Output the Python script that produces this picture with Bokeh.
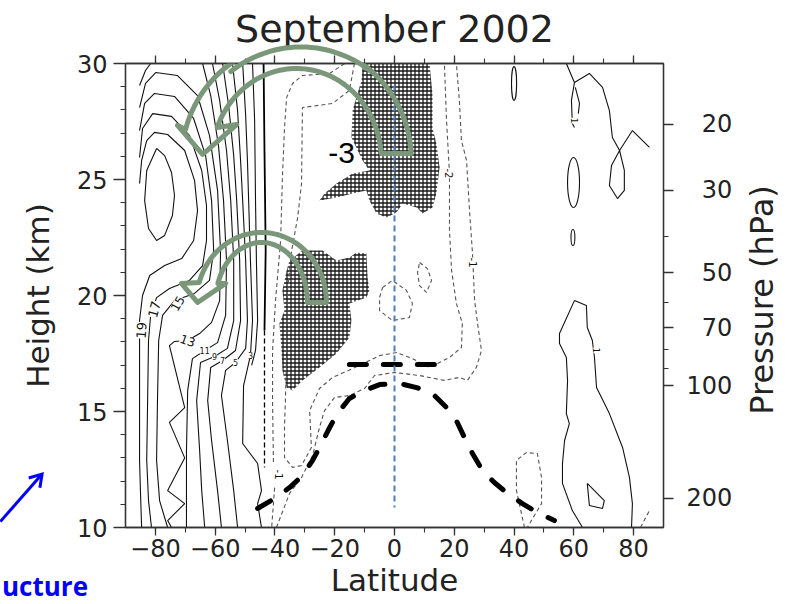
import numpy as np
from bokeh.plotting import figure
from bokeh.layouts import column
from bokeh.models import FixedTicker, LinearAxis, Label, PolyAnnotation, Div
from bokeh.embed import file_html
from bokeh.resources import INLINE

# ---------------- axes data ----------------
X_MIN, X_MAX = -90, 90
Y_MIN, Y_MAX = 10, 30
LAT_TICKS = [-80, -60, -40, -20, 0, 20, 40, 60, 80]
LAT_LABELS = ["\u221280", "\u221260", "\u221240", "\u221220", "0", "20", "40", "60", "80"]
LAT_MINOR = [-80, -70, -60, -50, -40, -30, -20, -10, 0, 10, 20, 30, 40, 50, 60, 70, 80]
H_TICKS = [10, 15, 20, 25, 30]
H_MINOR = list(range(10, 31))
P_TICKS = [20, 30, 50, 70, 100, 200]
P_LABELS = ["\u00a0\u00a020", "\u00a0\u00a030", "\u00a0\u00a050", "\u00a0\u00a070", "100", "200"]
P_MINOR = [40, 60, 80, 90]
SCALE_HEIGHT = 7.0
P_SURFACE = 1000.0


def p2h(p):
    return round(SCALE_HEIGHT * float(np.log(P_SURFACE / p)), 3)

# ---------------- positive (solid) contours: latitude / height (km) ----------------
C21_LAT = [-79.6, -76.9, -74.6, -73.6, -74.3, -76.9, -79.6, -82.3, -83.6, -82.9, -79.6]
C21_H = [26.34, 26.03, 25.30, 24.31, 23.45, 22.59, 22.37, 22.89, 24.09, 25.39, 26.34]
C19_LAT = [-85.3, -84.6, -82.9, -80.3, -75.9, -70.2, -66.9, -65.9, -67.2, -71.2, -76.9, -81.9, -84.3, -85.3, -85.3, -85.3, -85.3, -84.9, -84.6]
C19_H = [24.83, 25.82, 26.68, 27.03, 26.94, 26.25, 24.96, 23.66, 22.37, 21.59, 21.29, 20.86, 20.0, 18.92, 17.84, 15.47, 12.89, 11.16, 10.0]
C17_LAT = [-85.3, -84.3, -80.9, -74.6, -68.6, -64.5, -62.9, -62.9, -64.2, -68.6, -75.3, -79.6, -81.6, -82.3, -82.6, -82.9, -82.3, -81.3]
C17_H = [25.95, 27.20, 27.84, 27.72, 26.90, 25.39, 23.88, 22.37, 21.29, 20.65, 20.30, 19.91, 19.14, 18.06, 15.47, 12.89, 11.16, 10.0]
C15_LAT = [-85.3, -83.6, -80.3, -73.6, -67.2, -63.2, -61.2, -60.5, -61.9, -66.9, -73.6, -77.6, -78.9, -79.3, -79.6, -78.6, -75.9]
C15_H = [27.11, 28.28, 28.71, 28.58, 27.63, 26.03, 24.09, 21.94, 20.65, 20.09, 19.78, 19.14, 18.06, 15.47, 12.89, 11.16, 10.0]
C13_LAT = [-85.3, -83.3, -79.9, -72.6, -65.9, -61.9, -59.2, -58.2, -58.5, -61.2, -65.2, -69.2, -73.6, -75.3, -70.2, -75.3, -70.2, -75.9, -70.2, -75.9, -74.6]
C13_H = [28.10, 29.14, 29.61, 29.48, 28.62, 26.90, 24.53, 21.94, 19.78, 18.84, 18.36, 18.06, 18.02, 17.84, 15.17, 14.53, 13.00, 11.59, 11.03, 10.30, 10.0]
C11A_LAT = [-85.3, -83.3, -81.6]
C11A_H = [29.05, 29.70, 30.0]
C11_LAT = [-64.2, -61.5, -58.9, -57.2, -56.2, -56.5, -59.2, -63.5, -67.6, -69.2, -69.6, -69.6, -69.6]
C11_H = [30.0, 28.62, 26.47, 24.09, 21.51, 19.14, 17.97, 17.63, 17.28, 15.91, 13.32, 11.16, 10.0]
C9_LAT = [-60.9, -58.5, -56.2, -54.8, -53.8, -53.8, -55.9, -60.2, -64.9, -66.2, -65.2, -64.5, -63.5]
C9_H = [30.0, 28.41, 26.25, 24.09, 21.51, 18.92, 17.72, 17.37, 17.11, 15.47, 13.32, 11.59, 10.0]
C7_LAT = [-57.5, -55.5, -53.8, -52.8, -51.8, -51.5, -53.2, -57.5, -61.5, -62.5, -61.2, -59.2, -57.9]
C7_H = [30.0, 28.19, 26.03, 24.09, 21.51, 18.92, 17.63, 17.20, 16.90, 15.47, 13.75, 11.59, 10.0]
C5_LAT = [-54.2, -52.5, -51.5, -50.8, -49.8, -49.2, -49.8, -53.2, -56.5, -57.9, -55.9, -53.8, -52.5]
C5_H = [30.0, 27.97, 25.82, 24.09, 21.51, 18.92, 17.72, 17.11, 16.77, 15.69, 13.75, 11.59, 10.0]
C3_LAT = [-50.8, -49.8, -49.2, -48.8, -48.2, -47.5, -48.2, -50.5, -50.8, -45.8, -44.5, -45.8, -44.5]
C3_H = [30.0, 27.76, 25.82, 24.09, 21.51, 18.92, 17.41, 16.12, 13.62, 12.76, 11.59, 11.03, 10.0]
C1_LAT = [-47.5, -46.8, -46.5, -46.2, -45.8, -46.5, -47.8]
C1_H = [30.0, 27.54, 24.09, 21.51, 18.92, 17.63, 16.99]
C0_LAT = [-43.8, -43.5, -43.1, -43.5]
C0_H = [30.0, 26.25, 21.94, 18.49]
C0D_LAT = [-43.5, -43.5, -43.5]
C0D_H = [18.49, 15.47, 12.59]

R_TOP_LAT = [57.5, 60.2, 65.2, 69.6, 71.9, 72.9, 75.3, 79.6, 85.3]
R_TOP_H = [30.0, 29.18, 29.57, 28.97, 27.97, 26.81, 26.25, 27.11, 26.38]
R_LOOP_LAT = [75.3, 72.6, 71.9, 74.6, 76.9, 76.9, 75.3]
R_LOOP_H = [26.25, 25.60, 24.74, 24.18, 24.53, 25.39, 26.25]
R_BR1_LAT = [60.2, 59.2, 59.5, 60.2]
R_BR1_H = [29.18, 28.41, 27.41, 27.24]
R_BR2_LAT = [60.5, 61.9, 61.5]
R_BR2_H = [28.97, 28.28, 27.84]
R_BIG_LAT = [62.9, 59.5, 56.2, 56.2, 56.9, 58.5, 57.5, 57.9, 57.5, 55.2, 55.2, 60.2, 64.2, 64.5, 66.2, 66.9, 67.6, 71.9, 76.3, 78.6, 79.6, 79.3]
R_BIG_H = [10.0, 10.73, 11.90, 12.76, 13.75, 14.48, 14.91, 16.34, 17.33, 17.93, 18.36, 19.78, 19.57, 18.62, 18.06, 17.33, 16.03, 14.91, 13.45, 12.16, 11.03, 10.0]
R_TRI_LAT = [64.5, 70.2, 69.6, 65.2, 64.5]
R_TRI_H = [11.90, 11.16, 10.82, 10.95, 11.90]
ELL_LAT = [40.0, 59.9, 59.7]
ELL_H = [29.14, 24.87, 22.5]
ELL_W = [1.7, 4.0, 1.3]
ELL_HT = [1.46, 2.16, 0.69]

# ---------------- negative (dashed) contours ----------------
N1_LAT = [-16.7, -21.7, -30.8, -34.1, -36.1, -36.8, -37.5, -38.1, -39.8, -40.8, -40.8, -40.5]
N1_H = [30.0, 29.57, 29.48, 29.14, 28.53, 27.24, 25.09, 22.37, 19.78, 17.63, 15.47, 12.76]
N1B_LAT = [-40.1, -41.1]
N1B_H = [11.72, 10.0]
N2_LAT = [-13.4, -15.1, -20.7, -30.8, -31.1, -32.4, -34.4, -35.8, -36.1, -36.5, -36.8, -36.8, -34.1, -31.1, -27.8, -28.4, -25.1, -20.7, -14.0, -5.0, 0.7, 6.0, 11.7, 18.4, 22.4, 22.7, 20.7, 19.1, 18.4, 18.4, 17.4, 16.7]
N2_H = [30.0, 28.84, 28.28, 28.10, 24.83, 23.36, 21.94, 20.22, 17.63, 15.47, 14.31, 13.02, 12.59, 12.67, 13.45, 15.04, 15.99, 16.47, 16.85, 17.41, 17.54, 17.28, 16.90, 17.33, 17.76, 18.79, 19.66, 21.08, 22.80, 25.26, 27.54, 30.0]
N3_LAT = [-39.5, -35.1, -31.1, -27.4, -25.1, -23.4, -20.1, -15.1, -10.0, -6.7, 0.0, 8.4, 16.7, 21.7, 24.4, 27.4, 29.1, 27.8, 26.8, 26.1, 25.1, 24.1, 22.4, 21.7, 20.7]
N3_H = [10.0, 11.47, 12.16, 13.10, 14.31, 15.04, 15.60, 15.69, 15.99, 16.55, 16.68, 16.55, 16.34, 16.47, 16.34, 16.90, 17.63, 18.79, 19.78, 21.81, 23.66, 25.82, 26.68, 28.41, 30.0]
NL1_LAT = [-4.0, -0.7, 4.0, 6.0, 5.0, -0.7, -5.0, -5.0, -4.0]
NL1_H = [20.34, 20.65, 20.22, 19.66, 19.05, 18.92, 19.35, 19.91, 20.34]
NL2_LAT = [8.4, 11.0, 12.4, 10.7, 8.4, 7.7, 8.4]
NL2_H = [21.42, 21.16, 20.65, 20.13, 20.43, 20.99, 21.42]
NR40_LAT = [43.5, 40.8, 40.8, 44.1, 47.8, 49.2, 49.2, 45.8, 44.5]
NR40_H = [10.0, 11.59, 12.89, 13.23, 13.19, 12.16, 11.03, 10.30, 10.0]
NR85_LAT = [82.3, 85.3]
NR85_H = [10.0, 10.73]

# ---------------- stippled regions (below -3) ----------------
STIP_A_LAT = [-10.7, -11.0, -12.4, -14.0, -14.4, -10.7, -8.4, -14.0, -19.4, -23.4, -25.1, -19.4, -14.0, -9.4, -8.4, -6.0, -2.7, 0.7, 2.7, 7.4, 9.4, 12.7, 14.0, 15.1, 14.0, 12.7, 12.7, 11.7]
STIP_A_H = [30.0, 29.27, 28.71, 27.97, 26.81, 25.82, 25.39, 25.26, 24.83, 24.40, 24.09, 24.22, 24.40, 24.53, 24.09, 23.53, 23.36, 23.58, 23.97, 23.79, 23.53, 23.79, 24.40, 25.52, 26.55, 27.24, 28.71, 30.0]
STIP_B_LAT = [-35.1, -30.8, -24.1, -19.4, -15.1, -12.7, -9.4, -9.0, -8.4, -9.4, -15.1, -14.4, -15.1, -19.4, -25.1, -30.8, -34.1, -36.1, -37.5, -37.8, -38.5, -36.8, -37.5, -36.1]
STIP_B_H = [21.51, 21.94, 21.94, 21.51, 21.64, 21.85, 21.81, 20.78, 20.22, 19.91, 19.66, 18.92, 18.19, 17.50, 16.90, 16.34, 15.91, 16.03, 16.77, 17.63, 18.79, 19.35, 20.22, 21.08]

# ---------------- tropopause / equator ----------------
TROP_LAT = [-45.8, -40.1, -35.1, -30.8, -27.4, -24.4, -21.7, -19.1, -15.1, -10.0, -5.0, 1.7, 7.4, 12.7, 17.4, 20.7, 23.4, 26.1, 29.4, 33.4, 37.8, 42.8, 47.8, 53.5]
TROP_H = [10.82, 11.25, 11.72, 12.24, 12.89, 13.62, 14.31, 14.91, 15.56, 15.91, 16.16, 16.21, 16.03, 15.78, 15.17, 14.61, 13.88, 13.19, 12.46, 11.94, 11.47, 11.03, 10.65, 10.30]
TROPH_LAT = [-15.1, 16.7]
TROPH_H = [17.03, 17.03]
EQ_LAT = [0.0, 0.0]
EQ_H = [29.05, 10.86]

# contour labels: (lat, h, text, angle_deg, size)
CLABELS = [(-84.6, 18.5, "19", 85, 13), (-80.3, 19.4, "17", 75, 13), (-72.6, 19.66, "15", 60, 12),
           (-69.2, 18.06, "13", -20, 12), (-63.5, 17.63, "11", 0, 8), (-60.2, 17.37, "9", 0, 8),
           (-57.5, 17.2, "7", 0, 8), (-53.2, 17.11, "5", 0, 8), (-48.2, 17.41, "3", 0, 8),
           (18.4, 25.26, "-2", -90, 10), (26.1, 21.42, "-1", -90, 10), (-38.8, 12.28, "-1", -90, 10),
           (60.2, 27.54, "1", -90, 9), (67.6, 17.63, "1", -90, 9)]

# slide annotations (green curved arrows, blue pointer)
ARROWS = [
    dict(cx=-32.8, cy=25.82, a_out=38.46, b_out=5.086, a_in=28.43, b_in=3.966,
         t_out=(0.059, 2.876), t_in=(0.076, 2.775),
         head=[(-72.6, 27.33), (-64.2, 26.08), (-52.8, 27.37)]),
    dict(cx=-44.5, cy=19.70, a_out=21.74, b_out=3.017, a_in=15.38, b_in=2.586,
         t_out=(0.0, 2.852), t_in=(0.0, 2.819),
         head=[(-71.3, 20.52), (-65.9, 19.70), (-56.5, 20.52)]),
]
BLUE_START = (-133.4, 10.45)
BLUE_END = (-119.4, 12.50)

FONT = "DejaVu Sans"
TXT = "#222222"
GREEN = "#7a977a"
BLUE = "#0000ff"

W, H = 787, 604
BL, BR, BT, BB = 125, 124, 63, 77
FRAME_W = W - BL - BR
FRAME_H = H - BT - BB
KX = FRAME_W / (X_MAX - X_MIN)
KY = FRAME_H / (Y_MAX - Y_MIN)

p = figure(width=W, height=H, x_range=(X_MIN, X_MAX), y_range=(Y_MIN, Y_MAX),
           output_backend="svg", toolbar_location=None,
           min_border_left=BL, min_border_right=BR, min_border_top=BT, min_border_bottom=BB)
p.grid.visible = False
p.background_fill_color = "white"
p.border_fill_color = "white"
p.outline_line_color = "#333333"
p.outline_line_width = 1.3

p.title.text = "September 2002"
p.title.align = "center"
p.title.vertical_align = "top"
p.title.text_font = FONT
p.title.text_font_size = "38px"
p.title.text_font_style = "normal"
p.title.text_color = TXT
p.title.standoff = 6


def style_axis(ax, tick_out, minor_out, standoff):
    ax.axis_line_color = "#333333"
    ax.axis_line_width = 1.3
    ax.major_tick_line_color = "#333333"
    ax.major_tick_line_width = 1.3
    ax.minor_tick_line_color = "#333333"
    ax.minor_tick_line_width = 1.1
    ax.major_tick_in = 0
    ax.major_tick_out = tick_out
    ax.minor_tick_in = 0
    ax.minor_tick_out = minor_out
    ax.major_label_text_font = FONT
    ax.major_label_text_font_size = "24px"
    ax.major_label_text_color = TXT
    ax.major_label_standoff = standoff
    ax.axis_label_text_font = FONT
    ax.axis_label_text_font_size = "31px"
    ax.axis_label_text_font_style = "normal"
    ax.axis_label_text_color = TXT


xa = p.xaxis[0]
xa.ticker = FixedTicker(ticks=LAT_TICKS, minor_ticks=LAT_MINOR)
xa.major_label_overrides = {t: s for t, s in zip(LAT_TICKS, LAT_LABELS)}
style_axis(xa, 8, 5, 3)
xa.axis_label = "Latitude"
xa.axis_label_standoff = 2

ya = p.yaxis[0]
ya.ticker = FixedTicker(ticks=H_TICKS, minor_ticks=H_MINOR)
style_axis(ya, 12, 5, 6)
ya.axis_label = "Height (km)"
ya.axis_label_standoff = 18

top = LinearAxis(ticker=FixedTicker(ticks=LAT_TICKS, minor_ticks=LAT_MINOR))
style_axis(top, 8, 5, 0)
top.major_label_text_font_size = "1px"
top.major_label_text_color = None
p.add_layout(top, "above")

p_ticks_h = [p2h(v) for v in P_TICKS]
p_minor_h = [p2h(v) for v in P_MINOR]
right = LinearAxis(ticker=FixedTicker(ticks=p_ticks_h, minor_ticks=p_minor_h))
right.major_label_overrides = {t: s for t, s in zip(p_ticks_h, P_LABELS)}
style_axis(right, 10, 5, 13)
p.add_layout(right, "right")

# stippled regions
p.patches([STIP_A_LAT, STIP_B_LAT], [STIP_A_H, STIP_B_H], fill_alpha=0, line_alpha=0,
          hatch_pattern="+", hatch_scale=4.0, hatch_weight=1.3, hatch_color="black", hatch_alpha=0.9)

# solid contours
solid_x = [C21_LAT, C19_LAT, C17_LAT, C15_LAT, C13_LAT, C11A_LAT, C11_LAT, C9_LAT, C7_LAT, C5_LAT, C3_LAT, C1_LAT,
           R_TOP_LAT, R_LOOP_LAT, R_BR1_LAT, R_BR2_LAT, R_BIG_LAT, R_TRI_LAT]
solid_y = [C21_H, C19_H, C17_H, C15_H, C13_H, C11A_H, C11_H, C9_H, C7_H, C5_H, C3_H, C1_H,
           R_TOP_H, R_LOOP_H, R_BR1_H, R_BR2_H, R_BIG_H, R_TRI_H]
p.multi_line(solid_x, solid_y, line_color="#111111", line_width=1.1)
p.line(C0_LAT, C0_H, line_color="black", line_width=1.8)
p.line(C0D_LAT, C0D_H, line_color="black", line_width=1.3, line_dash="5 3")
p.ellipse(x=ELL_LAT, y=ELL_H, width=ELL_W, height=ELL_HT, fill_alpha=0, line_color="#111111", line_width=1.1)

# dashed contours
dash_x = [N1_LAT, N1B_LAT, N2_LAT, N3_LAT, NL1_LAT, NL2_LAT, NR40_LAT, NR85_LAT]
dash_y = [N1_H, N1B_H, N2_H, N3_H, NL1_H, NL2_H, NR40_H, NR85_H]
p.multi_line(dash_x, dash_y, line_color="#555555", line_width=1.1, line_dash="4 3")

# tropopause
p.line(TROP_LAT, TROP_H, line_color="black", line_width=5, line_dash="15 19", line_cap="round")
p.line(TROPH_LAT, TROPH_H, line_color="black", line_width=5, line_dash="17 17", line_cap="round")

# equator
p.line(EQ_LAT, EQ_H, line_color="#4a7cc4", line_width=2, line_dash="6 4")

for lat, h, txt, ang, size in CLABELS:
    p.add_layout(Label(x=lat, y=h, text=txt, angle=np.deg2rad(ang), text_align="center",
                       text_baseline="middle", text_font=FONT, text_font_size=f"{size}px",
                       text_color="#111111", background_fill_color="white", background_fill_alpha=1.0))

p.add_layout(Label(x=-17.7, y=26.16, text="-3", text_align="center", text_baseline="middle",
                   text_font="Liberation Sans", text_font_size="30px", text_color="black"))


def arc(cx, cy, a, b, t0, t1, n=80):
    t = np.linspace(t0, t1, n)
    return list(cx + a * np.cos(t)), list(cy + b * np.sin(t))


for A in ARROWS:
    ox, oy = arc(A["cx"], A["cy"], A["a_out"], A["b_out"], *A["t_out"])
    ix, iy = arc(A["cx"], A["cy"], A["a_in"], A["b_in"], A["t_in"][1], A["t_in"][0])
    xs = ox + [q[0] for q in A["head"]] + ix
    ys = oy + [q[1] for q in A["head"]] + iy
    p.add_layout(PolyAnnotation(xs=xs, ys=ys, fill_color=None, fill_alpha=0,
                                line_color=GREEN, line_alpha=1.0, line_width=5, line_join="round"))


# ---------- overlay for the pieces that lie outside the plot frame ----------
def to_px(lat, h):
    return BL + (lat - X_MIN) * KX, BT + (Y_MAX - h) * KY


A0 = ARROWS[0]
t_lo = float(np.arcsin(min(1.0, (Y_MAX - A0["cy"]) / A0["b_out"]))) - 0.05
gx, gy = arc(A0["cx"], A0["cy"], A0["a_out"], A0["b_out"], t_lo, np.pi - t_lo, 40)
g_pts = [to_px(a, b) for a, b in zip(gx, gy)]
green_path = "M " + " L ".join(f"{x:.1f} {y:.1f}" for x, y in g_pts)

bx0, by0 = to_px(*BLUE_START)
bx1, by1 = to_px(*BLUE_END)
ux, uy = bx1 - bx0, by1 - by0
ul = float(np.hypot(ux, uy))
ux, uy = ux / ul, uy / ul
arms = []
for sgn in (1, -1):
    c, s = np.cos(np.deg2rad(32)), sgn * np.sin(np.deg2rad(32))
    rx, ry = ux * c - uy * s, ux * s + uy * c
    arms.append((bx1 - 14 * rx, by1 - 14 * ry))
head_pts = f"{arms[0][0]:.1f},{arms[0][1]:.1f} {bx1:.1f},{by1:.1f} {arms[1][0]:.1f},{arms[1][1]:.1f}"

overlay_html = (
    f'<svg width="{W}" height="{H}" style="position:absolute;left:0px;top:0px;overflow:visible">'
    f'<path d="{green_path}" fill="none" stroke="{GREEN}" stroke-width="5" stroke-linecap="round"/>'
    f'<line x1="{bx0:.1f}" y1="{by0:.1f}" x2="{bx1:.1f}" y2="{by1:.1f}" stroke="{BLUE}" stroke-width="3"/>'
    f'<polyline points="{head_pts}" fill="none" stroke="{BLUE}" stroke-width="3" stroke-linejoin="miter"/>'
    '</svg>'
    '<div style="position:absolute;left:-3px;top:564px;font-family:\'Open Sans\';font-weight:bold;'
    'font-size:26px;line-height:34px;color:#0000ff;white-space:nowrap;">ucture</div>'
    '<div style="position:absolute;left:627px;top:275px;width:260px;height:40px;line-height:40px;'
    'text-align:center;transform:rotate(-90deg);transform-origin:50% 50%;font-family:\'DejaVu Sans\';'
    'font-size:32px;color:#222222;white-space:nowrap;">Pressure (hPa)</div>'
)
overlay = Div(text=overlay_html, width=W, height=H,
              styles={"position": "absolute", "left": "0px", "top": "0px",
                      "pointer-events": "none", "z-index": "10"})

layout = column(p, overlay)
open("out.html", "w").write(file_html(layout, INLINE))
